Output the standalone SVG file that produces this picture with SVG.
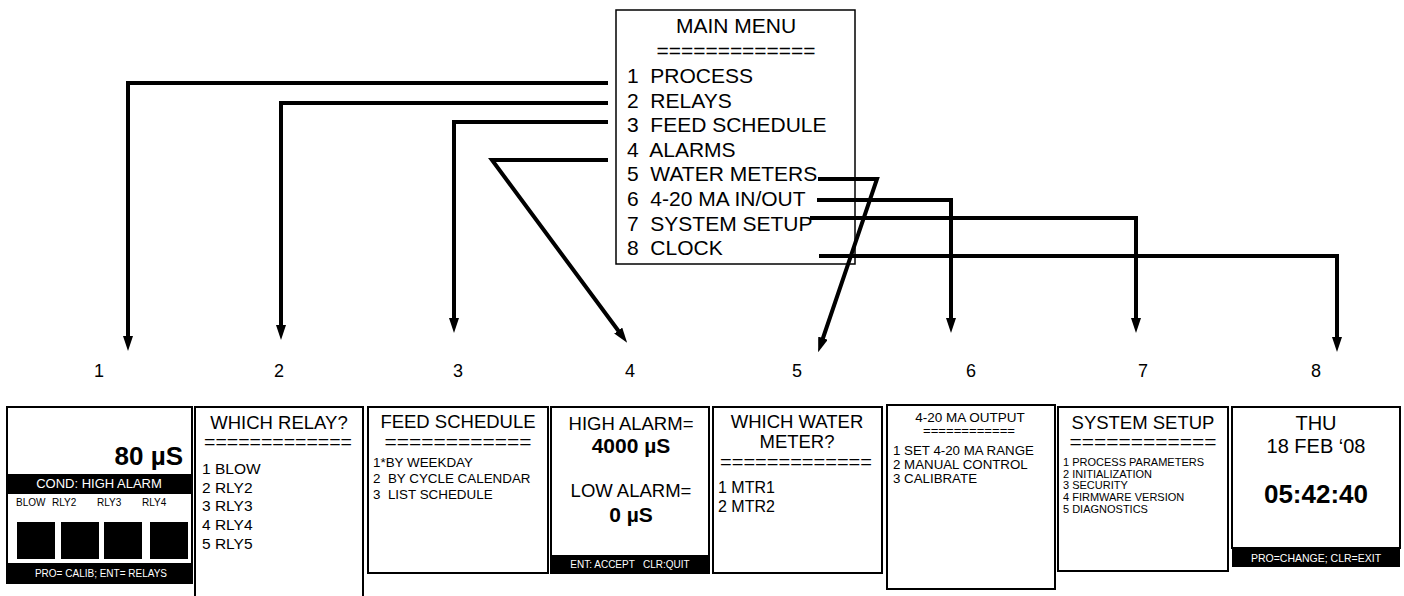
<svg xmlns="http://www.w3.org/2000/svg" width="1404" height="596" viewBox="0 0 1404 596">
<style>
text{font-family:"Liberation Sans",Arial,sans-serif;fill:#000;white-space:pre}
.m{font-size:21px}
.t{font-size:18.5px;text-anchor:middle}
.c{text-anchor:middle}
.b{font-weight:bold}
.w{fill:#fff}
.box{fill:#fff;stroke:#000;stroke-width:2}
.blk{fill:#000}
.lbl{font-size:18px;text-anchor:middle}
</style>
<defs>
<marker id="ah" markerUnits="userSpaceOnUse" markerWidth="15" markerHeight="10" viewBox="0 0 15 10" refX="3" refY="5" orient="auto">
<path d="M0,0 L15,5 L0,10 z" fill="#000"/>
</marker>
</defs>
<rect width="1404" height="596" fill="#fff"/>

<g id="main-menu">
<rect x="616" y="10" width="239" height="254" fill="#fff" stroke="#000" stroke-width="1.5"/>
<text class="m c" x="736" y="33">MAIN MENU</text>
<text class="m c" x="736" y="58" textLength="159" lengthAdjust="spacingAndGlyphs">=============</text>
<text class="m" x="627" y="83">1  PROCESS</text>
<text class="m" x="627" y="107.5">2  RELAYS</text>
<text class="m" x="627" y="132">3  FEED SCHEDULE</text>
<text class="m" x="627" y="156.5">4  ALARMS</text>
<text class="m" x="627" y="181">5  WATER METERS</text>
<text class="m" x="627" y="206">6  4-20 MA IN/OUT</text>
<text class="m" x="627" y="230.5">7  SYSTEM SETUP</text>
<text class="m" x="627" y="255">8  CLOCK</text>
</g>

<g id="connectors" fill="none" stroke="#000" stroke-width="4" stroke-linejoin="miter" marker-end="url(#ah)">
<path d="M608,83 H128 V339"/>
<path d="M608,103 H281 V328"/>
<path d="M608,122 H454 V321"/>
<path d="M608,160 H492 L620,333"/>
<path d="M818,179 H877 L822,341"/>
<path d="M817,200 H951 V321"/>
<path d="M810,218 H1136 V321"/>
<path d="M819,256 H1337 V340"/>
</g>

<g id="labels">
<text class="lbl" x="99" y="377">1</text>
<text class="lbl" x="279" y="377">2</text>
<text class="lbl" x="458" y="377">3</text>
<text class="lbl" x="630" y="377">4</text>
<text class="lbl" x="797" y="377">5</text>
<text class="lbl" x="971" y="377">6</text>
<text class="lbl" x="1143" y="377">7</text>
<text class="lbl" x="1316" y="377">8</text>
</g>

<g id="screen1">
<rect class="box" x="7" y="407" width="185" height="176"/>
<text class="b" x="183" y="465" font-size="26" text-anchor="end">80 µS</text>
<rect class="blk" x="7" y="474" width="185" height="20"/>
<text class="w c" x="99" y="488" font-size="13">COND: HIGH ALARM</text>
<text x="16" y="506" font-size="10">BLOW</text>
<text x="52" y="506" font-size="10">RLY2</text>
<text x="97" y="506" font-size="10">RLY3</text>
<text x="142" y="506" font-size="10">RLY4</text>
<rect class="blk" x="17" y="522" width="38" height="37"/>
<rect class="blk" x="61" y="522" width="38" height="37"/>
<rect class="blk" x="104" y="522" width="38" height="37"/>
<rect class="blk" x="150" y="522" width="38" height="37"/>
<rect class="blk" x="7" y="563" width="185" height="20"/>
<text class="w c" x="101" y="577" font-size="10">PRO= CALIB; ENT= RELAYS</text>
</g>

<g id="screen2">
<rect class="box" x="195" y="407" width="168" height="200"/>
<text class="t" x="279" y="429">WHICH RELAY?</text>
<text class="t" x="278" y="448" textLength="148" lengthAdjust="spacingAndGlyphs">=============</text>
<text x="202" y="474" font-size="15.5">1 BLOW</text>
<text x="202" y="492.7" font-size="15.5">2 RLY2</text>
<text x="202" y="511.4" font-size="15.5">3 RLY3</text>
<text x="202" y="530" font-size="15.5">4 RLY4</text>
<text x="202" y="548.5" font-size="15.5">5 RLY5</text>
</g>

<g id="screen3">
<rect class="box" x="368" y="407" width="180" height="166"/>
<text class="t" x="458" y="428">FEED SCHEDULE</text>
<text class="t" x="458" y="448" textLength="147" lengthAdjust="spacingAndGlyphs">============</text>
<text x="373" y="467" font-size="13.4">1*BY WEEKDAY</text>
<text x="373" y="483" font-size="13.4">2  BY CYCLE CALENDAR</text>
<text x="373" y="499" font-size="13.4">3  LIST SCHEDULE</text>
</g>

<g id="screen4">
<rect class="box" x="551" y="407" width="158" height="166"/>
<text class="t" x="631" y="430">HIGH ALARM=</text>
<text class="b c" x="631" y="453" font-size="21">4000 µS</text>
<text class="t" x="631" y="497">LOW ALARM=</text>
<text class="b c" x="631" y="522" font-size="21">0 µS</text>
<rect class="blk" x="551" y="555" width="158" height="18"/>
<text class="w c" x="630" y="568" font-size="10">ENT: ACCEPT   CLR:QUIT</text>
</g>

<g id="screen5">
<rect class="box" x="713" y="407" width="169" height="166"/>
<text class="t" x="797" y="428">WHICH WATER</text>
<text class="t" x="797" y="448">METER?</text>
<text class="t" x="796" y="468" textLength="152" lengthAdjust="spacingAndGlyphs">=============</text>
<text x="718" y="493" font-size="16">1 MTR1</text>
<text x="718" y="512" font-size="16">2 MTR2</text>
</g>

<g id="screen6">
<rect class="box" x="887" y="405" width="168" height="184"/>
<text class="c" x="970" y="422" font-size="13.5">4-20 MA OUTPUT</text>
<text class="c" x="969" y="435" font-size="10" textLength="92" lengthAdjust="spacingAndGlyphs">============</text>
<text x="893" y="455" font-size="13.3">1 SET 4-20 MA RANGE</text>
<text x="893" y="469" font-size="13.3">2 MANUAL CONTROL</text>
<text x="893" y="483" font-size="13.3">3 CALIBRATE</text>
</g>

<g id="screen7">
<rect class="box" x="1058" y="407" width="170" height="164"/>
<text class="t" x="1143" y="429">SYSTEM SETUP</text>
<text class="t" x="1143" y="448" textLength="147" lengthAdjust="spacingAndGlyphs">============</text>
<text x="1063" y="465.7" font-size="11">1 PROCESS PARAMETERS</text>
<text x="1063" y="477.5" font-size="11">2 INITIALIZATION</text>
<text x="1063" y="489.2" font-size="11">3 SECURITY</text>
<text x="1063" y="501" font-size="11">4 FIRMWARE VERSION</text>
<text x="1063" y="512.7" font-size="11">5 DIAGNOSTICS</text>
</g>

<g id="screen8">
<rect class="box" x="1232" y="407" width="168" height="141"/>
<rect class="blk" x="1232" y="548" width="168" height="19"/>
<text class="c" x="1316" y="430" font-size="20">THU</text>
<text class="c" x="1316" y="453" font-size="20">18 FEB ‘08</text>
<text class="b c" x="1316" y="503" font-size="26">05:42:40</text>
<text class="w c" x="1316" y="562" font-size="10.5">PRO=CHANGE; CLR=EXIT</text>
</g>
</svg>
